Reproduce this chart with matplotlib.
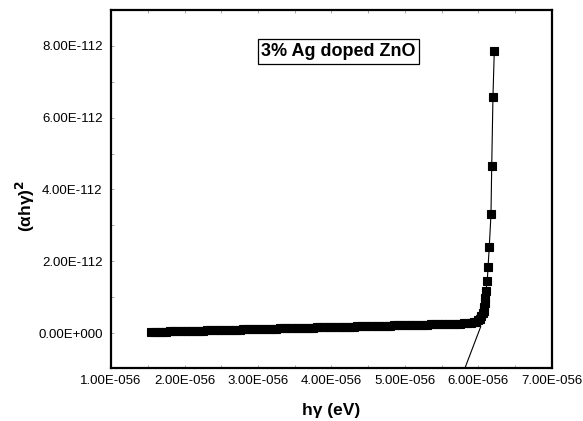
import numpy as np
import matplotlib
matplotlib.use("Agg")
import matplotlib.pyplot as plt
from matplotlib.ticker import FuncFormatter, MultipleLocator

# photon energy (units of 1e-56) and (alpha h gamma)^2 (units of 1e-112)
X_SCALE = 1e-56
Y_SCALE = 1e-112

hv = [1.55, 1.60, 1.65, 1.70, 1.75, 1.80, 1.85, 1.90, 1.95, 2.00,
      2.05, 2.10, 2.15, 2.20, 2.25, 2.30, 2.35, 2.40, 2.45, 2.50,
      2.55, 2.60, 2.65, 2.70, 2.75, 2.80, 2.85, 2.90, 2.95, 3.00,
      3.05, 3.10, 3.15, 3.20, 3.25, 3.30, 3.35, 3.40, 3.45, 3.50,
      3.55, 3.60, 3.65, 3.70, 3.75, 3.80, 3.85, 3.90, 3.95, 4.00,
      4.05, 4.10, 4.15, 4.20, 4.25, 4.30, 4.35, 4.40, 4.45, 4.50,
      4.55, 4.60, 4.65, 4.70, 4.75, 4.80, 4.85, 4.90, 4.95, 5.00,
      5.05, 5.10, 5.15, 5.20, 5.25, 5.30, 5.35, 5.40, 5.45, 5.50,
      5.55, 5.60, 5.65, 5.70, 5.75, 5.80, 5.85, 5.90,
      5.94, 5.97, 6.00, 6.02, 6.04, 6.06, 6.07, 6.08, 6.09, 6.095,
      6.10, 6.12, 6.13, 6.147, 6.17, 6.18, 6.197, 6.215]

ahv2 = [0.030, 0.033, 0.035, 0.038, 0.041, 0.044, 0.047, 0.049, 0.052, 0.055,
        0.058, 0.060, 0.063, 0.066, 0.069, 0.071, 0.074, 0.077, 0.080, 0.082,
        0.085, 0.088, 0.091, 0.093, 0.096, 0.099, 0.102, 0.104, 0.107, 0.110,
        0.113, 0.115, 0.118, 0.121, 0.124, 0.126, 0.129, 0.132, 0.135, 0.137,
        0.140, 0.143, 0.146, 0.148, 0.151, 0.154, 0.157, 0.159, 0.162, 0.165,
        0.168, 0.170, 0.173, 0.176, 0.179, 0.181, 0.184, 0.187, 0.190, 0.192,
        0.195, 0.198, 0.201, 0.203, 0.206, 0.209, 0.212, 0.214, 0.217, 0.220,
        0.223, 0.225, 0.228, 0.231, 0.234, 0.236, 0.239, 0.242, 0.245, 0.248,
        0.251, 0.254, 0.257, 0.260, 0.264, 0.268, 0.273, 0.280,
        0.300, 0.320, 0.360, 0.400, 0.460, 0.550, 0.620, 0.720, 0.850, 0.980,
        1.17, 1.46, 1.84, 2.41, 3.31, 4.65, 6.59, 7.86]

# extrapolated tangent line
fit_x = [5.816, 6.03]
fit_y = [-0.975, 0.175]

x_ticks = [1, 2, 3, 4, 5, 6, 7]
y_ticks = [0, 2, 4, 6, 8]


def excel_fmt(v, pos):
    if abs(v) < 1e-300:
        return "0.00E+000"
    e = int(np.floor(np.log10(abs(v)) + 1e-9))
    m = v / 10.0 ** e
    if round(abs(m), 2) >= 10:
        m /= 10
        e += 1
    sign = "-" if e < 0 else "+"
    return f"{m:.2f}E{sign}{abs(e):03d}"


plt.rcParams['font.family'] = ['Liberation Sans', 'DejaVu Sans']

fig = plt.figure(figsize=(5.83, 4.21), dpi=100)
ax = fig.add_axes([0.1904, 0.1259, 0.7564, 0.8503])

xs = np.array(hv) * X_SCALE
ys = np.array(ahv2) * Y_SCALE
ax.plot(xs, ys, color="black", lw=0.8, marker="s", markersize=5.5,
        markeredgewidth=0.8, markeredgecolor="black")
ax.plot(np.array(fit_x) * X_SCALE, np.array(fit_y) * Y_SCALE,
        color="black", lw=0.8)

ax.set_xlim(1 * X_SCALE, 7 * X_SCALE)
ax.set_ylim(-0.975 * Y_SCALE, 9.0 * Y_SCALE)
ax.set_xticks([t * X_SCALE for t in x_ticks])
ax.set_yticks([t * Y_SCALE for t in y_ticks])
ax.xaxis.set_minor_locator(MultipleLocator(0.5 * X_SCALE))
ax.yaxis.set_minor_locator(MultipleLocator(1 * Y_SCALE))
ax.xaxis.set_major_formatter(FuncFormatter(excel_fmt))
ax.yaxis.set_major_formatter(FuncFormatter(excel_fmt))
ax.tick_params(which="both", direction="in", length=2, width=0.5,
               color="#888888", labelsize=9.5, top=True, right=False)
ax.tick_params(axis="x", pad=5)
ax.tick_params(axis="y", pad=6)

for s in ax.spines.values():
    s.set_linewidth(1.6)
    s.set_color("black")

ax.text(0.516, 0.884, "3% Ag doped ZnO", transform=ax.transAxes,
        ha="center", va="center", fontsize=13, fontweight="bold",
        bbox=dict(boxstyle="square,pad=0.2", fc="white", ec="black", lw=0.9))

fig.text(0.568, 0.026, "h\u03b3 (eV)", ha="center", va="center",
         fontsize=12.5, fontweight="bold")
fig.text(0.043, 0.51, "(\u03b1h\u03b3)$^{\\mathbf{2}}$", ha="center", va="center",
         rotation=90, fontsize=12.5, fontweight="bold")

fig.savefig("out.png", dpi=100)
